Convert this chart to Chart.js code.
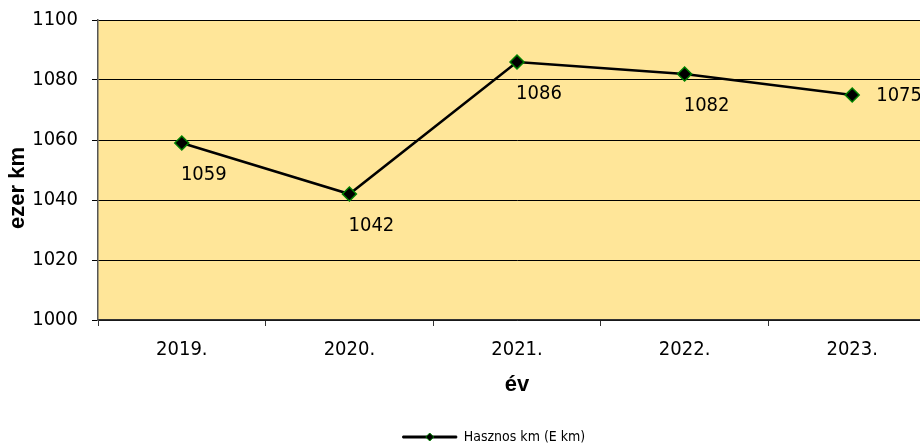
<!DOCTYPE html>
<html>
<head>
<meta charset="utf-8">
<script src="https://cdn.jsdelivr.net/npm/chart.js@4"></script>
<style>
  html, body { margin: 0; padding: 0; background: #fff; overflow: hidden; }
  #wrap { width: 988px; height: 448px; }
</style>
</head>
<body>
<div id="wrap"><canvas id="c" width="988" height="448"></canvas></div>
<script>
const categories = ['2019.', '2020.', '2021.', '2022.', '2023.'];
const values = [1059, 1042, 1086, 1082, 1075];
const seriesName = 'Hasznos km (E km)';
const yTitle = 'ezer km';
const xTitle = 'év';

const TICK_FONT = "'DejaVu Sans Condensed', 'DejaVu Sans', sans-serif";
const TITLE_FONT = "'Liberation Sans', Arial, sans-serif";
const labelPlacement = ['below', 'below', 'below', 'below', 'right'];

const bgPlugin = {
  id: 'plotBg',
  beforeDraw(chart) {
    const {ctx, chartArea: a} = chart;
    ctx.save();
    ctx.fillStyle = '#FFE699';
    ctx.fillRect(a.left, a.top, a.right - a.left, a.bottom - a.top);
    ctx.restore();
  }
};

const yTitlePlugin = {
  id: 'yTitle',
  afterDraw(chart) {
    const {ctx, chartArea: a} = chart;
    ctx.save();
    ctx.translate(18, (a.top + a.bottom) / 2 + 18);
    ctx.rotate(-Math.PI / 2);
    ctx.font = "bold 22px " + TITLE_FONT;
    ctx.fillStyle = '#000';
    ctx.textAlign = 'center';
    ctx.textBaseline = 'middle';
    ctx.fillText(yTitle, 0, 0);
    ctx.restore();
  }
};

const labelPlugin = {
  id: 'valLabels',
  afterDatasetsDraw(chart) {
    const {ctx} = chart;
    const meta = chart.getDatasetMeta(0);
    ctx.save();
    ctx.font = "20px " + TICK_FONT;
    ctx.fillStyle = '#000';
    meta.data.forEach((pt, i) => {
      const v = chart.data.datasets[0].data[i];
      if (labelPlacement[i] === 'right') {
        ctx.textAlign = 'left';
        ctx.textBaseline = 'middle';
        ctx.fillText(String(v), pt.x + 24, pt.y + 1);
      } else {
        ctx.textAlign = 'center';
        ctx.textBaseline = 'middle';
        ctx.fillText(String(v), pt.x + 22, pt.y + 32);
      }
    });
    ctx.restore();
  }
};

const legendMarker = {
  id: 'legendMarker',
  afterDraw(chart) {
    const lg = chart.legend;
    if (!lg || !lg.legendHitBoxes || !lg.legendHitBoxes.length) return;
    const hb = lg.legendHitBoxes[0];
    const bw = lg.options.labels.boxWidth;
    const cx = hb.left + bw / 2;
    const cy = hb.top + hb.height / 2;
    const {ctx} = chart;
    const r = 4;
    ctx.save();
    ctx.beginPath();
    ctx.moveTo(cx, cy - r);
    ctx.lineTo(cx + r, cy);
    ctx.lineTo(cx, cy + r);
    ctx.lineTo(cx - r, cy);
    ctx.closePath();
    ctx.fillStyle = '#000';
    ctx.fill();
    ctx.strokeStyle = '#008000';
    ctx.lineWidth = 1;
    ctx.stroke();
    ctx.restore();
  }
};

new Chart(document.getElementById('c'), {
  type: 'line',
  data: {
    labels: categories,
    datasets: [{
      label: seriesName,
      data: values,
      borderColor: '#000',
      backgroundColor: '#000',
      borderWidth: 2.5,
      tension: 0,
      pointStyle: 'rectRot',
      pointRadius: 7,
      pointHoverRadius: 7,
      pointBackgroundColor: '#000',
      pointBorderColor: '#008000',
      pointBorderWidth: 1.5,
      clip: false
    }]
  },
  options: {
    responsive: false,
    animation: false,
    devicePixelRatio: 1,
    layout: { padding: { top: 20, left: 0, right: 0, bottom: -6 } },
    plugins: {
      legend: {
        display: true,
        position: 'bottom',
        labels: {
          boxWidth: 54,
          boxHeight: 2,
          padding: 0,
          color: '#000',
          font: { family: TICK_FONT, size: 14 },
          generateLabels(chart) {
            return [{
              text: seriesName,
              fillStyle: '#000',
              strokeStyle: '#000',
              lineWidth: 1,
              fontColor: '#000',
              datasetIndex: 0
            }];
          }
        }
      },
      tooltip: { enabled: false }
    },
    scales: {
      x: {
        type: 'category',
        offset: true,
        grid: { display: true, drawOnChartArea: false, drawTicks: true, tickLength: 6, color: '#333', offset: true },
        border: { display: true, color: '#333', width: 1.5 },
        ticks: { color: '#000', font: { family: TICK_FONT, size: 20 }, padding: 12, maxRotation: 0 },
        title: { display: true, text: xTitle, color: '#000', font: { family: TITLE_FONT, size: 22, weight: 'bold' }, padding: { top: 0, bottom: 32 } },
        afterFit(s) { s.height = 110; s.paddingLeft = 0; s.paddingRight = 0; }
      },
      y: {
        min: 1000,
        max: 1100,
        ticks: { stepSize: 20, color: '#000', font: { family: TICK_FONT, size: 20 }, padding: 14, callback: v => String(v) },
        grid: { color: '#000', lineWidth: 1, tickLength: 6, drawTicks: true },
        border: { display: true, color: '#555', width: 1.5 },
        title: { display: false, text: yTitle },
        afterFit(s) { s.width = 98; s.paddingTop = 0; s.paddingBottom = 0; }
      },
      yR: {
        position: 'right',
        display: true,
        min: 0, max: 1,
        grid: { display: false, drawTicks: false },
        border: { display: false },
        ticks: { display: false },
        afterFit(s) { s.width = 52; s.paddingTop = 0; s.paddingBottom = 0; }
      }
    }
  },
  plugins: [bgPlugin, labelPlugin, legendMarker, yTitlePlugin]
});
</script>
</body>
</html>
